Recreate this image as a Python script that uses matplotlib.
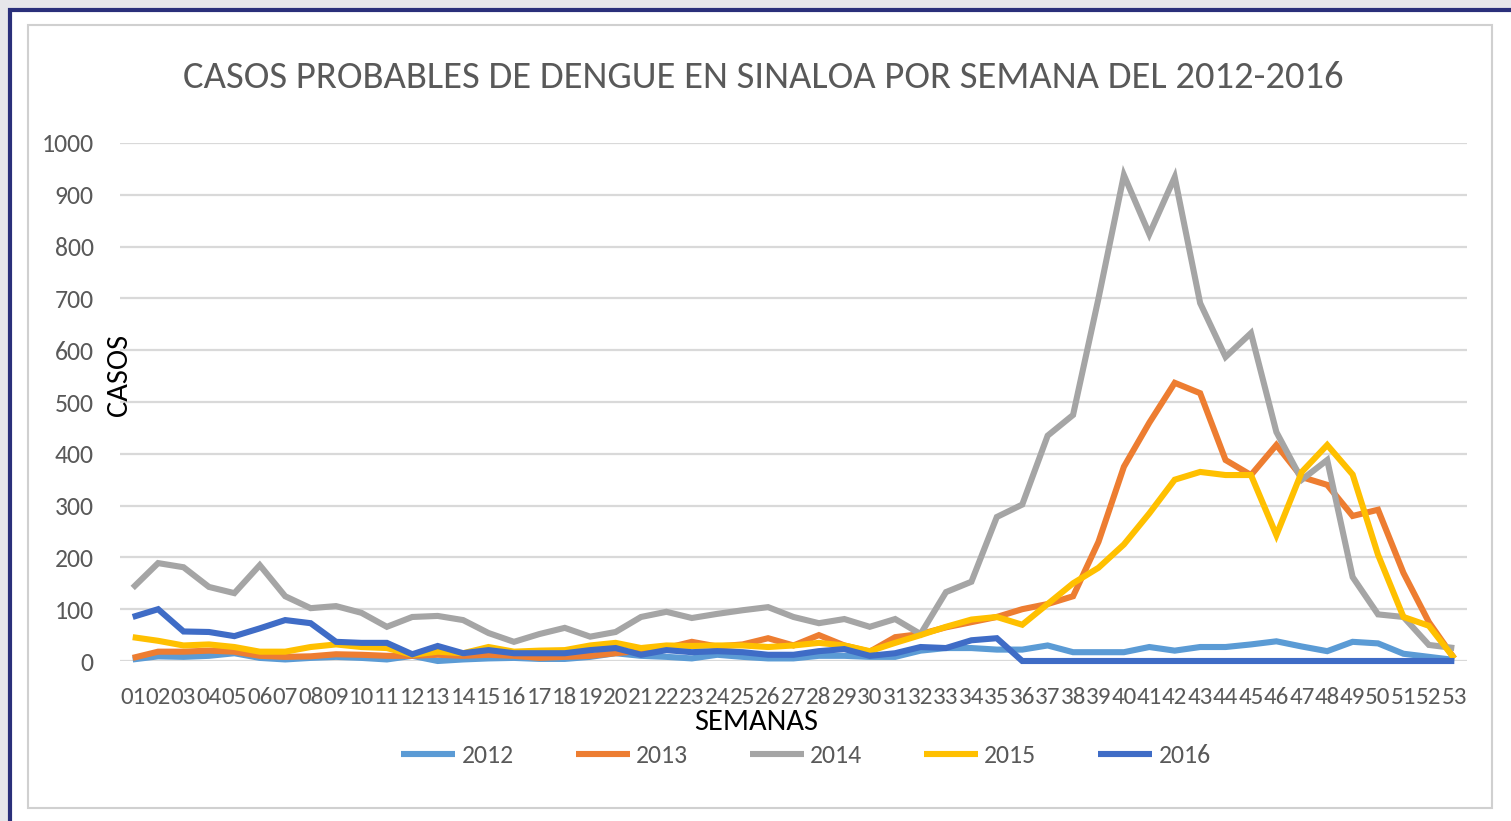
import matplotlib
matplotlib.use("Agg")
import matplotlib.pyplot as plt
from matplotlib.patches import Rectangle
from matplotlib import font_manager as fm

names = {f.name for f in fm.fontManager.ttflist}
FONT = next((n for n in ["Carlito", "Liberation Sans Narrow", "Roboto Condensed", "Lato"] if n in names),
            "DejaVu Sans")
plt.rcParams['font.family'] = [FONT, 'DejaVu Sans']

weeks = [f"{i:02d}" for i in range(1, 54)]
years = ["2012", "2013", "2014", "2015", "2016"]
colors = ["#5B9BD5", "#ED7D31", "#A5A5A5", "#FFC000", "#3F6CC6"]

c2012 = [3, 9, 8, 10, 15, 6, 3, 6, 8, 6, 3, 10, 0, 3, 5, 6, 4, 4, 8, 15,
         10, 8, 5, 12, 8, 5, 5, 10, 10, 8, 8, 20, 25, 25, 22, 22, 30, 17, 17, 17,
         27, 20, 27, 27, 32, 38, 28, 19, 37, 34, 14, 8, 2]
c2013 = [6, 18, 18, 20, 18, 10, 8, 9, 13, 12, 10, 10, 12, 10, 12, 10, 6, 8, 10, 15,
         20, 25, 37, 28, 32, 44, 30, 50, 30, 18, 46, 52, 65, 75, 85, 100, 110, 125, 230, 375,
         460, 537, 517, 388, 359, 417, 355, 340, 280, 292, 170, 75, 5]
c2014 = [141, 189, 181, 143, 131, 185, 125, 102, 106, 93, 66, 85, 87, 79, 54, 37, 52, 64, 47, 56,
         85, 95, 83, 91, 98, 104, 85, 73, 81, 66, 81, 52, 133, 153, 278, 302, 435, 475, 700, 938,
         824, 934, 691, 587, 633, 442, 350, 388, 162, 90, 85, 31, 25]
c2015 = [46, 39, 30, 32, 27, 18, 18, 27, 32, 27, 25, 12, 18, 15, 27, 18, 20, 21, 30, 35,
         25, 30, 29, 30, 30, 27, 30, 35, 30, 19, 35, 50, 66, 80, 85, 70, 110, 150, 180, 225,
         285, 350, 365, 359, 359, 243, 365, 417, 360, 205, 85, 68, 5]
c2016 = [85, 100, 57, 56, 48, 63, 79, 73, 37, 35, 35, 13, 29, 15, 21, 15, 15, 15, 21, 25,
         12, 21, 17, 19, 17, 12, 12, 19, 23, 10, 15, 27, 25, 40, 44, 0, 0, 0, 0, 0,
         0, 0, 0, 0, 0, 0, 0, 0, 0, 0, 0, 0, 0]
series = [c2012, c2013, c2014, c2015, c2016]

W, H = 1511, 821
fig = plt.figure(figsize=(W / 100, H / 100), dpi=100)
fig.patch.set_facecolor("#e6e6ea")

# frames
fig.patches.append(Rectangle((10 / W, -0.05), 1.2, (H - 10) / H + 0.05, transform=fig.transFigure,
                             facecolor="white", edgecolor="#2a2f7a", lw=3, zorder=-3))
fig.patches.append(Rectangle((28 / W, (H - 808) / H), (1492 - 28) / W, (808 - 25) / H,
                             transform=fig.transFigure, facecolor="white",
                             edgecolor="#d0d0d0", lw=1.5, zorder=-2))

ax = fig.add_axes([120 / W, (H - 661) / H, (1467 - 120) / W, (661 - 143) / H])
ax.set_facecolor("none")
x = list(range(1, 54))
for yr, vals, col in zip(years, series, colors):
    ax.plot(x, vals, color=col, lw=4.4, label=yr, solid_joinstyle="miter",
            solid_capstyle="butt", clip_on=False, zorder=3)

ax.set_xlim(0.5, 53.5)
ax.set_ylim(0, 1000)
ax.set_yticks(range(0, 1001, 100))
ax.set_xticks(x)
ax.set_xticklabels(weeks)
ax.yaxis.grid(True, color="#d9d9d9", lw=1.6)
ax.set_axisbelow(True)
for s in ax.spines.values():
    s.set_visible(False)
ax.tick_params(axis="both", length=0, labelsize=18, colors="#595959")
ax.tick_params(axis="y", labelsize=18.5, pad=19)
ax.tick_params(axis="x", pad=19)

fig.text(763 / W, 1 - 78 / H, "CASOS PROBABLES DE DENGUE EN SINALOA POR SEMANA DEL 2012-2016",
         ha="center", va="center", fontsize=27.8, color="#595959")
fig.text(119 / W, 1 - 375 / H, "CASOS", rotation=90, ha="center", va="center",
         fontsize=22, color="black")
fig.text(756 / W, 1 - 722 / H, "SEMANAS", ha="center", va="center",
         fontsize=22, color="black")

leg = ax.legend(loc="center", bbox_to_anchor=(806 / W, 1 - 755 / H), bbox_transform=fig.transFigure,
                ncol=5, frameon=False, fontsize=18.5, handlelength=2.1, handletextpad=0.25,
                columnspacing=2.4, labelcolor="#595959")
for line in leg.get_lines():
    line.set_linewidth(4.4)

fig.savefig("out.png", dpi=100, facecolor=fig.get_facecolor())
